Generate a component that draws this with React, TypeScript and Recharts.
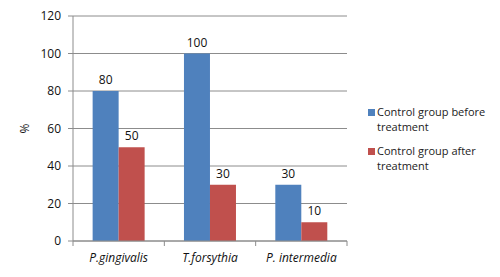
import React from "react";
import {
  BarChart,
  Bar,
  XAxis,
  YAxis,
  CartesianGrid,
  Legend,
  LabelList,
} from "recharts";

const categories = ["P.gingivalis", "T.forsythia", "P. intermedia"];
const beforeValues = [80, 100, 30];
const afterValues = [50, 30, 10];
const yTicks = [0, 20, 40, 60, 80, 100, 120];

const data = categories.map((name, i) => ({
  name,
  before: beforeValues[i],
  after: afterValues[i],
}));

const FONT = "'Open Sans', 'Liberation Sans', sans-serif";
const GRID = "#8c8c8c";

const W = 500;
const H = 277;
const MARGIN = { top: 16, right: 23, left: 20, bottom: 0 };
const Y_AXIS_W = 53;
const LEGEND_W = 130;
const X_TICK_GAP = 12;
const BAND = (W - MARGIN.left - MARGIN.right - Y_AXIS_W - LEGEND_W) / categories.length;

// category label plus tick marks on the band edges, like the original
function CategoryTick(props: any) {
  const { x, y, payload, index } = props;
  const half = BAND / 2;
  const axisY = y - X_TICK_GAP;
  return (
    <g>
      <line x1={x - half} x2={x - half} y1={axisY} y2={axisY + 5} stroke={GRID} />
      {index === categories.length - 1 && (
        <line x1={x + half} x2={x + half} y1={axisY} y2={axisY + 5} stroke={GRID} />
      )}
      <text
        x={x}
        y={y}
        dy="0.71em"
        textAnchor="middle"
        fontFamily={FONT}
        fontSize={12}
        fontStyle="italic"
        fill="#111"
      >
        {payload.value}
      </text>
    </g>
  );
}

function LegendContent() {
  const items = [
    { color: "#4f81bd", lines: ["Control group before", "treatment"] },
    { color: "#c0504d", lines: ["Control group after", "treatment"] },
  ];
  return (
    <div style={{ fontFamily: FONT, fontSize: 11, color: "#222", paddingLeft: 21, whiteSpace: "nowrap" }}>
      {items.map((it, i) => (
        <div key={i} style={{ display: "flex", marginBottom: i === 0 ? 9 : 0 }}>
          <span
            style={{
              width: 7,
              height: 7,
              background: it.color,
              marginTop: 5,
              marginRight: 2,
              flex: "none",
            }}
          />
          <div style={{ lineHeight: "15px" }}>
            {it.lines.map((l, j) => (
              <div key={j}>{l}</div>
            ))}
          </div>
        </div>
      ))}
    </div>
  );
}

export default function App() {
  return (
    <div style={{ position: "absolute", top: 0, left: 0, width: W, height: H, background: "#fff" }}>
      <BarChart
        width={W}
        height={H}
        data={data}
        margin={MARGIN}
        barCategoryGap="21.5%"
        barGap={0}
      >
        <CartesianGrid vertical={false} stroke={GRID} strokeWidth={1} />
        <XAxis
          dataKey="name"
          height={36}
          tickLine={false}
          tickSize={0}
          tickMargin={X_TICK_GAP}
          axisLine={{ stroke: GRID }}
          tick={<CategoryTick />}
          interval={0}
        />
        <YAxis
          width={Y_AXIS_W}
          domain={[0, 120]}
          ticks={yTicks}
          tickSize={5}
          tickMargin={7}
          tickLine={{ stroke: GRID }}
          axisLine={{ stroke: GRID }}
          tick={{ fontFamily: FONT, fontSize: 12, fill: "#111" }}
          label={{
            value: "%",
            angle: -90,
            position: "insideLeft",
            offset: 5,
            style: { textAnchor: "middle", fontFamily: FONT, fontSize: 12, fill: "#111" },
          }}
        />
        <Legend
          layout="vertical"
          align="right"
          verticalAlign="middle"
          width={LEGEND_W}
          content={<LegendContent />}
        />
        <Bar dataKey="before" fill="#4f81bd" isAnimationActive={false}>
          <LabelList dataKey="before" position="top" offset={7} style={{ fontFamily: FONT, fontSize: 12, fill: "#111" }} />
        </Bar>
        <Bar dataKey="after" fill="#c0504d" isAnimationActive={false}>
          <LabelList dataKey="after" position="top" offset={7} style={{ fontFamily: FONT, fontSize: 12, fill: "#111" }} />
        </Bar>
      </BarChart>
    </div>
  );
}
